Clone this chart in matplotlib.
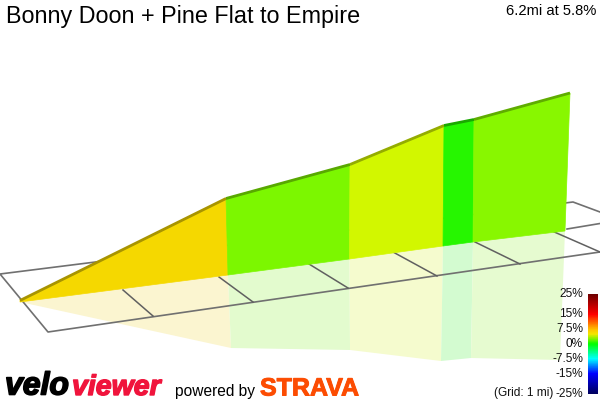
import numpy as np
import matplotlib.pyplot as plt
import matplotlib.patheffects as pe
from matplotlib.colors import LinearSegmentedColormap
from matplotlib.patches import Polygon

plt.rcParams['font.family'] = ['Liberation Sans', 'DejaVu Sans']

title = 'Bonny Doon + Pine Flat to Empire'
summary = '6.2mi at 5.8%'
grid_note = '(Grid: 1 mi)'

# profile, in image pixels
top_x = [20, 226, 350, 444, 474, 570]
top_y = [301.5, 199.5, 165.5, 126.5, 120.5, 94]
base_x = [20, 228, 349.5, 443, 473, 565]
base_y = [303, 276, 260, 247, 243, 232]
mirror_x = [20, 231, 350, 441, 471, 560]
mirror_y = [303, 349, 351, 362, 359, 361]

wall_colors = ['#f5d800', '#7cf700', '#d2f700', '#26f600', '#88f700']
edge_colors = ['#a89400', '#58a800', '#94ac00', '#1aa800', '#5fac00']
mirror_colors = ['#fbf5d0', '#e3fbce', '#f5fbce', '#d3fbd0', '#e6fbd0']

# ground grid
outer_x = [600, 573, 0, 48, 600]
outer_y = [213, 203, 275, 333, 253]
mid_x = [567, 600]
mid_y = [230, 224.5]
cross_start_x = [123, 219, 309, 393, 475, 552]
cross_start_y = [291, 278, 265, 253, 243, 232]
cross_end_x = [153, 253, 348, 437, 520, 600]
cross_end_y = [317, 303, 289, 277, 265, 253]

# gradient legend
grade_ticks = [25, 15, 7.5, 0, -7.5, -15, -25]
grade_labels = ['25%', '15%', '7.5%', '0%', '-7.5%', '-15%', '-25%']
grade_stops = [-25, -15, -7.5, 0, 5, 7.5, 15, 25]
grade_colors = ['#000060', '#0000ff', '#00ffff', '#00ff00', '#f5e800', '#ffc000', '#ff0000', '#700000']

fig = plt.figure(figsize=(6, 4.02), dpi=100)
ax = fig.add_axes([0, 0, 1, 1])
ax.set_xlim(0, 600)
ax.set_ylim(402, 0)
ax.axis('off')

for i in range(len(wall_colors)):
    # reflection on the ground
    ax.add_patch(Polygon([(base_x[i], base_y[i]), (base_x[i + 1], base_y[i + 1]),
                          (mirror_x[i + 1], mirror_y[i + 1]), (mirror_x[i], mirror_y[i])],
                         closed=True, facecolor=mirror_colors[i], edgecolor='none', zorder=1))

# grid shows through the reflection but not the wall
ax.plot(outer_x, outer_y, color='#707070', lw=1.2, zorder=2)
ax.plot(mid_x, mid_y, color='#707070', lw=1.2, zorder=2)
for i in range(len(cross_start_x)):
    ax.plot([cross_start_x[i], cross_end_x[i]], [cross_start_y[i], cross_end_y[i]],
            color='#606060', lw=1.1, zorder=2)

for i in range(len(wall_colors)):
    # wall
    ax.add_patch(Polygon([(top_x[i], top_y[i]), (top_x[i + 1], top_y[i + 1]),
                          (base_x[i + 1], base_y[i + 1]), (base_x[i], base_y[i])],
                         closed=True, facecolor=wall_colors[i], edgecolor=wall_colors[i], lw=0.5, zorder=3))
    # dark strip along the road surface
    ax.plot([top_x[i], top_x[i + 1]], [top_y[i], top_y[i + 1]], color=edge_colors[i],
            lw=2.0, solid_capstyle='butt', zorder=4)

ax.text(6, 17, title, fontsize=16.8, color='black', ha='left', va='center')
ax.text(596, 11, summary, fontsize=10.6, color='black', ha='right', va='center')

# legend bar, 2 px per percent
cmap = LinearSegmentedColormap.from_list('grade', [((g + 25) / 50, c) for g, c in zip(grade_stops, grade_colors)])
ramp = np.linspace(25, -25, 100).reshape(-1, 1)
ax.imshow(ramp, cmap=cmap, vmin=-25, vmax=25, extent=(588, 598, 395, 295), aspect='auto', zorder=3)
ax.set_xlim(0, 600)
ax.set_ylim(402, 0)
for g, lab in zip(grade_ticks, grade_labels):
    ax.text(583, 344 - g * 2, lab, fontsize=8.6, color='#111111', ha='right', va='center')
ax.text(553, 393, grid_note, fontsize=8.6, color='#111111', ha='right', va='center')

# logos, stroked to get the heavy weight
ax.text(5, 395.5, 'velo', fontsize=23, fontweight='bold', style='italic', color='black',
        ha='left', va='baseline', path_effects=[pe.withStroke(linewidth=1.2, foreground='black')])
ax.text(72, 396, 'viewer', fontsize=20.5, fontweight='bold', style='italic', color='#f0143c',
        ha='left', va='baseline', path_effects=[pe.withStroke(linewidth=1.0, foreground='#f0143c')])
ax.text(175, 396, 'powered by', fontsize=11.2, color='black', ha='left', va='baseline')
ax.text(260, 396.5, 'STRAVA', fontsize=18, fontweight='bold', color='#fc4c02', ha='left', va='baseline',
        path_effects=[pe.withStroke(linewidth=0.7, foreground='#fc4c02')])

fig.savefig('out.png', dpi=100)
